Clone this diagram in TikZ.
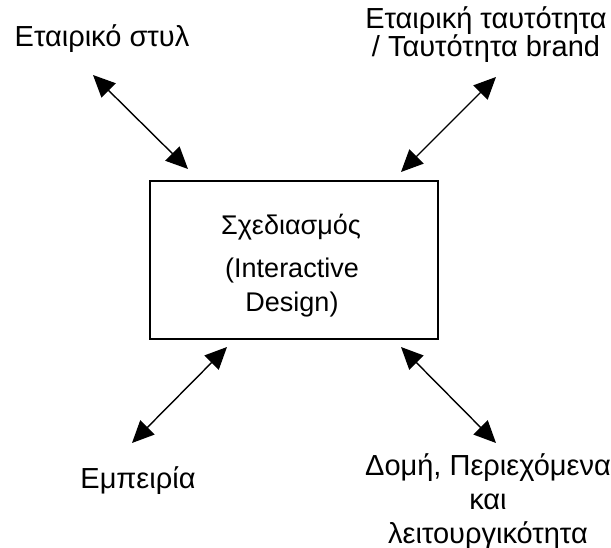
\documentclass[tikz,border=0pt]{standalone}
\usepackage{fontspec}
\setmainfont{Liberation Sans}
\usetikzlibrary{arrows.meta}
\begin{document}
\begin{tikzpicture}[x=1pt,y=-1pt,
  lbl/.style={font=\fontsize{29}{34}\selectfont, align=center, inner sep=0pt, anchor=base},
  inlbl/.style={font=\fontsize{27}{34}\selectfont, align=center, inner sep=0pt, anchor=base},
  link/.style={line width=1.4pt, {Triangle[length=22pt,width=20pt]}-{Triangle[length=22pt,width=20pt]}}]
\useasboundingbox (0,0) rectangle (611,548);
\node[draw, line width=1.4pt, minimum width=288pt, minimum height=158pt, inner sep=0pt] (box) at (294,260) {};
\node[inlbl] (t1) at (291,235) {Σχεδιασμός};
\node[inlbl] (t2) at (292,312) {(Interactive\\Design)};
\node[lbl] (tl) at (102,47) {Εταιρικό στυλ};
\node[lbl, font=\fontsize{29}{25}\selectfont] (tr) at (486,57) {Εταιρική ταυτότητα\\/ Ταυτότητα brand};
\node[lbl] (bl) at (138,488) {Εμπειρία};
\node[lbl] (br) at (488,543) {Δομή, Περιεχόμενα\\και\\λειτουργικότητα};
\coordinate (a1) at (93,75);
\coordinate (a2) at (188,169);
\coordinate (b1) at (496,77);
\coordinate (b2) at (401,172);
\coordinate (c1) at (227,347);
\coordinate (c2) at (132,443);
\coordinate (d1) at (401,347);
\coordinate (d2) at (496,443);
\draw[link] (a1) -- (a2);
\draw[link] (b1) -- (b2);
\draw[link] (c1) -- (c2);
\draw[link] (d1) -- (d2);
\end{tikzpicture}
\end{document}
